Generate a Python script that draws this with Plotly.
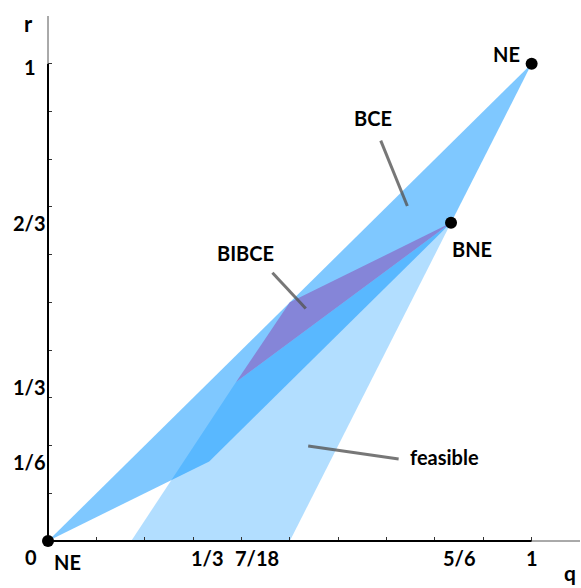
import plotly.graph_objects as go

# Regions in the (q, r) plane
bce_q = [0, 1/3, 5/6, 1]
bce_r = [0, 1/6, 2/3, 1]

feasible_q = [0.172, 7/18, 5/6, 1/2]
feasible_r = [0, 1/3, 2/3, 0]

bibce_q = [7/18, 1/2, 5/6]
bibce_r = [1/3, 1/2, 2/3]

# Equilibrium points
ne_q = [0, 1]
ne_r = [0, 1]
bne_q = [5/6]
bne_r = [2/3]

# Axis tick labels
x_tick_text = ["1/3", "7/18", "5/6", "1"]
x_tick_pos = [0.330, 0.432, 0.850, 1.0]
y_tick_text = ["1", "2/3", "1/3", "1/6"]
y_tick_pos = [0.993, 0.666, 0.323, 0.166]

AX_MAX = 1.1
FONT = "Lato, 'Noto Sans', sans-serif"
BLUE_BCE = "rgba(0,145,255,0.5)"
BLUE_FEAS = "rgba(0,145,255,0.3)"
PURPLE = "#8585d8"
LEADER = "rgba(85,85,85,0.8)"


def closed(xs):
    return list(xs) + [xs[0]]


fig = go.Figure()

fig.add_trace(go.Scatter(x=closed(feasible_q), y=closed(feasible_r), fill="toself",
                         fillcolor=BLUE_FEAS, mode="none", hoverinfo="skip"))
fig.add_trace(go.Scatter(x=closed(bce_q), y=closed(bce_r), fill="toself",
                         fillcolor=BLUE_BCE, mode="none", hoverinfo="skip"))
fig.add_trace(go.Scatter(x=closed(bibce_q), y=closed(bibce_r), fill="toself",
                         fillcolor=PURPLE, mode="none", hoverinfo="skip"))
fig.add_trace(go.Scatter(x=ne_q + bne_q, y=ne_r + bne_r, mode="markers",
                         marker=dict(size=12, color="black"), cliponaxis=False,
                         hoverinfo="skip"))

shapes = []
# axis lines: solid to 1, thin grey extension to 1.1
shapes.append(dict(type="line", xref="x", yref="paper", x0=0, x1=1, y0=0, y1=0,
                   line=dict(color="black", width=2), layer="above"))
shapes.append(dict(type="line", xref="x", yref="paper", x0=1, x1=AX_MAX, y0=0, y1=0,
                   line=dict(color="#555", width=1), layer="above"))
shapes.append(dict(type="line", xref="paper", yref="y", x0=0, x1=0, y0=0, y1=1,
                   line=dict(color="black", width=2), layer="above"))
shapes.append(dict(type="line", xref="paper", yref="y", x0=0, x1=0, y0=1, y1=AX_MAX,
                   line=dict(color="#555", width=1), layer="above"))

# leader lines for region labels
leaders = [
    ((0.688, 0.839), (0.743, 0.702)),  # BCE
    ((0.464, 0.562), (0.533, 0.487)),  # BIBCE
    ((0.538, 0.199), (0.725, 0.172)),  # feasible
]
for (x0, y0), (x1, y1) in leaders:
    shapes.append(dict(type="line", xref="x", yref="y", x0=x0, y0=y0, x1=x1, y1=y1,
                       line=dict(color=LEADER, width=3), layer="above"))

annotations = []


def label(text, q, r, size=20):
    # paper coordinates so labels outside the axis range still show
    annotations.append(dict(text="<b>%s</b>" % text, x=q / AX_MAX, y=r / AX_MAX,
                            xref="paper", yref="paper",
                            showarrow=False, xanchor="center", yanchor="middle",
                            font=dict(family=FONT, size=size, color="black")))


label("BCE", 0.671, 0.887)
label("BIBCE", 0.409, 0.604)
label("feasible", 0.819, 0.177)
label("NE", 0.949, 1.020)
label("BNE", 0.876, 0.611)
label("NE", 0.041, -0.045)
label("0", -0.036, -0.034)
label("r", -0.041, 1.085, 22)
label("q", 1.079, -0.066, 21)
for t, p in zip(x_tick_text, x_tick_pos):
    label(t, p, -0.035)
for t, p in zip(y_tick_text, y_tick_pos):
    label(t, -0.038, p)

axis_common = dict(range=[0, AX_MAX], showgrid=False, zeroline=False, showline=False,
                   ticks="inside", ticklen=4, tickwidth=1, tickcolor="#333",
                   tick0=0, dtick=0.1, showticklabels=False, fixedrange=True)

fig.update_layout(
    width=581, height=588,
    margin=dict(l=48, r=1, t=16, b=47),
    paper_bgcolor="white", plot_bgcolor="white",
    showlegend=False,
    xaxis=axis_common,
    yaxis=axis_common,
    shapes=shapes,
    annotations=annotations,
)

fig.write_html("out.html")
